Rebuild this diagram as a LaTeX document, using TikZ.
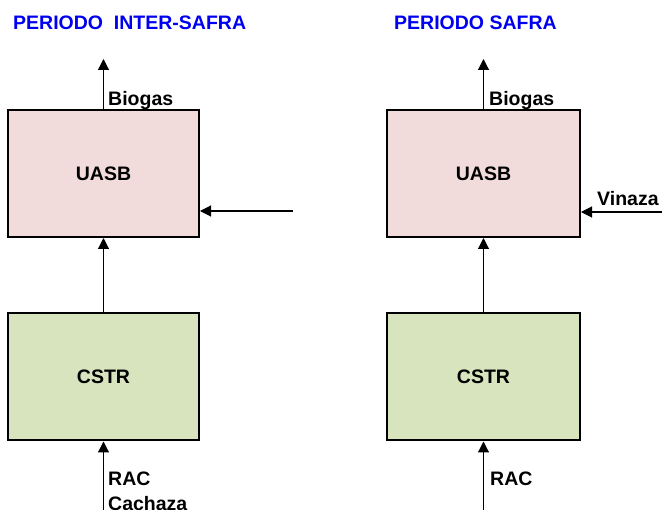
\documentclass[tikz,border=0pt]{standalone}
\usepackage{fontspec}
\setmainfont{Liberation Sans}
\usetikzlibrary{arrows.meta}
\definecolor{uasbfill}{RGB}{242,220,219}
\definecolor{cstrfill}{RGB}{215,228,189}
\definecolor{titleblue}{RGB}{0,0,240}
\begin{document}
\begin{tikzpicture}[x=1pt,y=-1pt,
  font=\fontsize{19.5}{24}\selectfont\bfseries,
  reactor/.style={draw=black, line width=2pt, minimum width=191pt, minimum height=127pt, inner sep=0pt},
  uasb/.style={reactor, fill=uasbfill},
  cstr/.style={reactor, fill=cstrfill},
  flow/.style={line width=1.1pt, -{Triangle[length=11pt,width=11pt]}},
  lbl/.style={anchor=base west, inner sep=0pt},
  title/.style={anchor=base west, inner sep=0pt, text=titleblue}]
\useasboundingbox (0,0) rectangle (662,510);
% titles
\node[title] (t1) at (13,30) {PERIODO\ \ INTER-SAFRA};
\node[title] (t2) at (394,30) {PERIODO SAFRA};
% left column
\node[uasb] (u1) at (103.5,173.5) {UASB};
\node[cstr] (c1) at (103.5,377) {CSTR};
\coordinate (g1) at (103.5,59);
\coordinate (s1) at (293,211);
\coordinate (r1) at (103.5,512);
\draw[flow] (u1.north) -- (g1);
\draw[flow] (c1.north) -- (u1.south);
\draw[flow] (s1) -- (s1 -| u1.east);
\draw[flow] (r1) -- (c1.south);
\node[lbl] (b1) at (108,106) {Biogas};
\node[lbl] (ra1) at (108,486) {RAC};
\node[lbl] (ca1) at (108,511) {Cachaza};
% right column
\node[uasb, minimum width=193pt] (u2) at (483.5,173.5) {UASB};
\node[cstr, minimum width=193pt] (c2) at (483.5,377) {CSTR};
\coordinate (g2) at (483.5,59);
\coordinate (s2) at (664,212);
\coordinate (r2) at (483.5,512);
\draw[flow] (u2.north) -- (g2);
\draw[flow] (c2.north) -- (u2.south);
\draw[flow] (s2) -- (s2 -| u2.east);
\draw[flow] (r2) -- (c2.south);
\node[lbl] (b2) at (489,106) {Biogas};
\node[lbl] (v2) at (597,206) {Vinaza};
\node[lbl] (ra2) at (490,486) {RAC};
\end{tikzpicture}
\end{document}
